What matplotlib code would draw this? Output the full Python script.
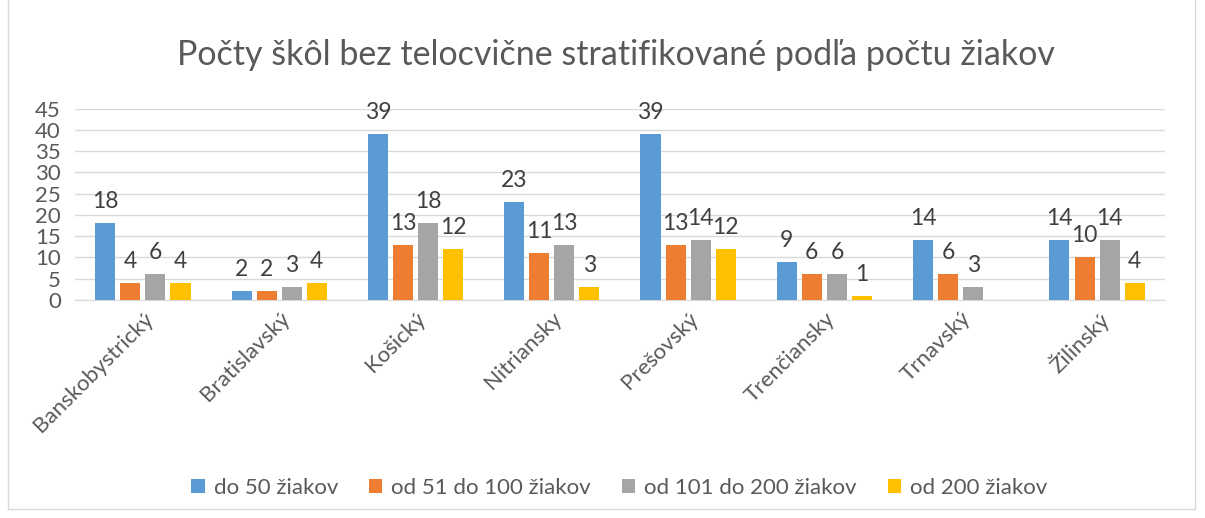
import numpy as np
import matplotlib
matplotlib.use('Agg')
import matplotlib.pyplot as plt
from matplotlib.patches import Rectangle

plt.rcParams['font.family'] = ['Lato', 'DejaVu Sans']

kraje = ['Banskobystrický', 'Bratislavský', 'Košický', 'Nitriansky',
         'Prešovský', 'Trenčiansky', 'Trnavský', 'Žilinský']
do_50 = [18, 2, 39, 23, 39, 9, 14, 14]
od_51_100 = [4, 2, 13, 11, 13, 6, 6, 10]
od_101_200 = [6, 3, 18, 13, 14, 6, 3, 14]
od_200 = [4, 4, 12, 3, 12, 1, np.nan, 4]

series = [('do 50 žiakov', do_50, '#5B9BD5'),
          ('od 51 do 100 žiakov', od_51_100, '#ED7D31'),
          ('od 101 do 200 žiakov', od_101_200, '#A5A5A5'),
          ('od 200 žiakov', od_200, '#FFC000')]

fig = plt.figure(figsize=(12.05, 5.18), dpi=100)
ax = fig.add_axes([0.062, 0.421, 0.905, 0.369])

x = np.arange(len(kraje))
bw = 0.147
pitch = 0.184
for i, (name, vals, col) in enumerate(series):
    pos = x + (i - 1.5) * pitch
    ax.bar(pos, vals, width=bw, color=col, label=name, zorder=3)
    for p, v in zip(pos, vals):
        if not np.isnan(v):
            ax.annotate('%d' % v, (p, v), xytext=(0, 8), textcoords='offset points',
                        ha='center', va='bottom', fontsize=16.5, color='#404040')

ax.set_xlim(-0.5, len(kraje) - 0.5)
ax.set_ylim(0, 45)
ax.set_yticks(range(0, 46, 5))
ax.yaxis.grid(True, color='#D9D9D9', linewidth=1, zorder=0)
for s in ['top', 'right', 'left']:
    ax.spines[s].set_visible(False)
ax.spines['bottom'].set_color('#D9D9D9')
ax.tick_params(axis='both', length=0, labelsize=16, colors='#595959')
ax.tick_params(axis='y', pad=10)
ax.tick_params(axis='x', pad=6)
ax.set_xticks(x)
ax.set_xticklabels(kraje, rotation=45, ha='right', rotation_mode='anchor')

fig.text(0.511, 0.893, 'Počty škôl bez telocvične stratifikované podľa počtu žiakov',
         ha='center', va='center', fontsize=24.5, color='#595959')

fig.legend(loc='center', bbox_to_anchor=(0.514, 0.058), ncol=4, frameon=False,
           fontsize=16, labelcolor='#595959', handlelength=0.6, handleheight=0.6,
           columnspacing=1.4, handletextpad=0.4)

fig.patches.append(Rectangle((0.007, 0.018), 0.985, 1.1, transform=fig.transFigure,
                             fill=False, edgecolor='#D9D9D9', linewidth=1))

fig.savefig('out.png', dpi=100)
